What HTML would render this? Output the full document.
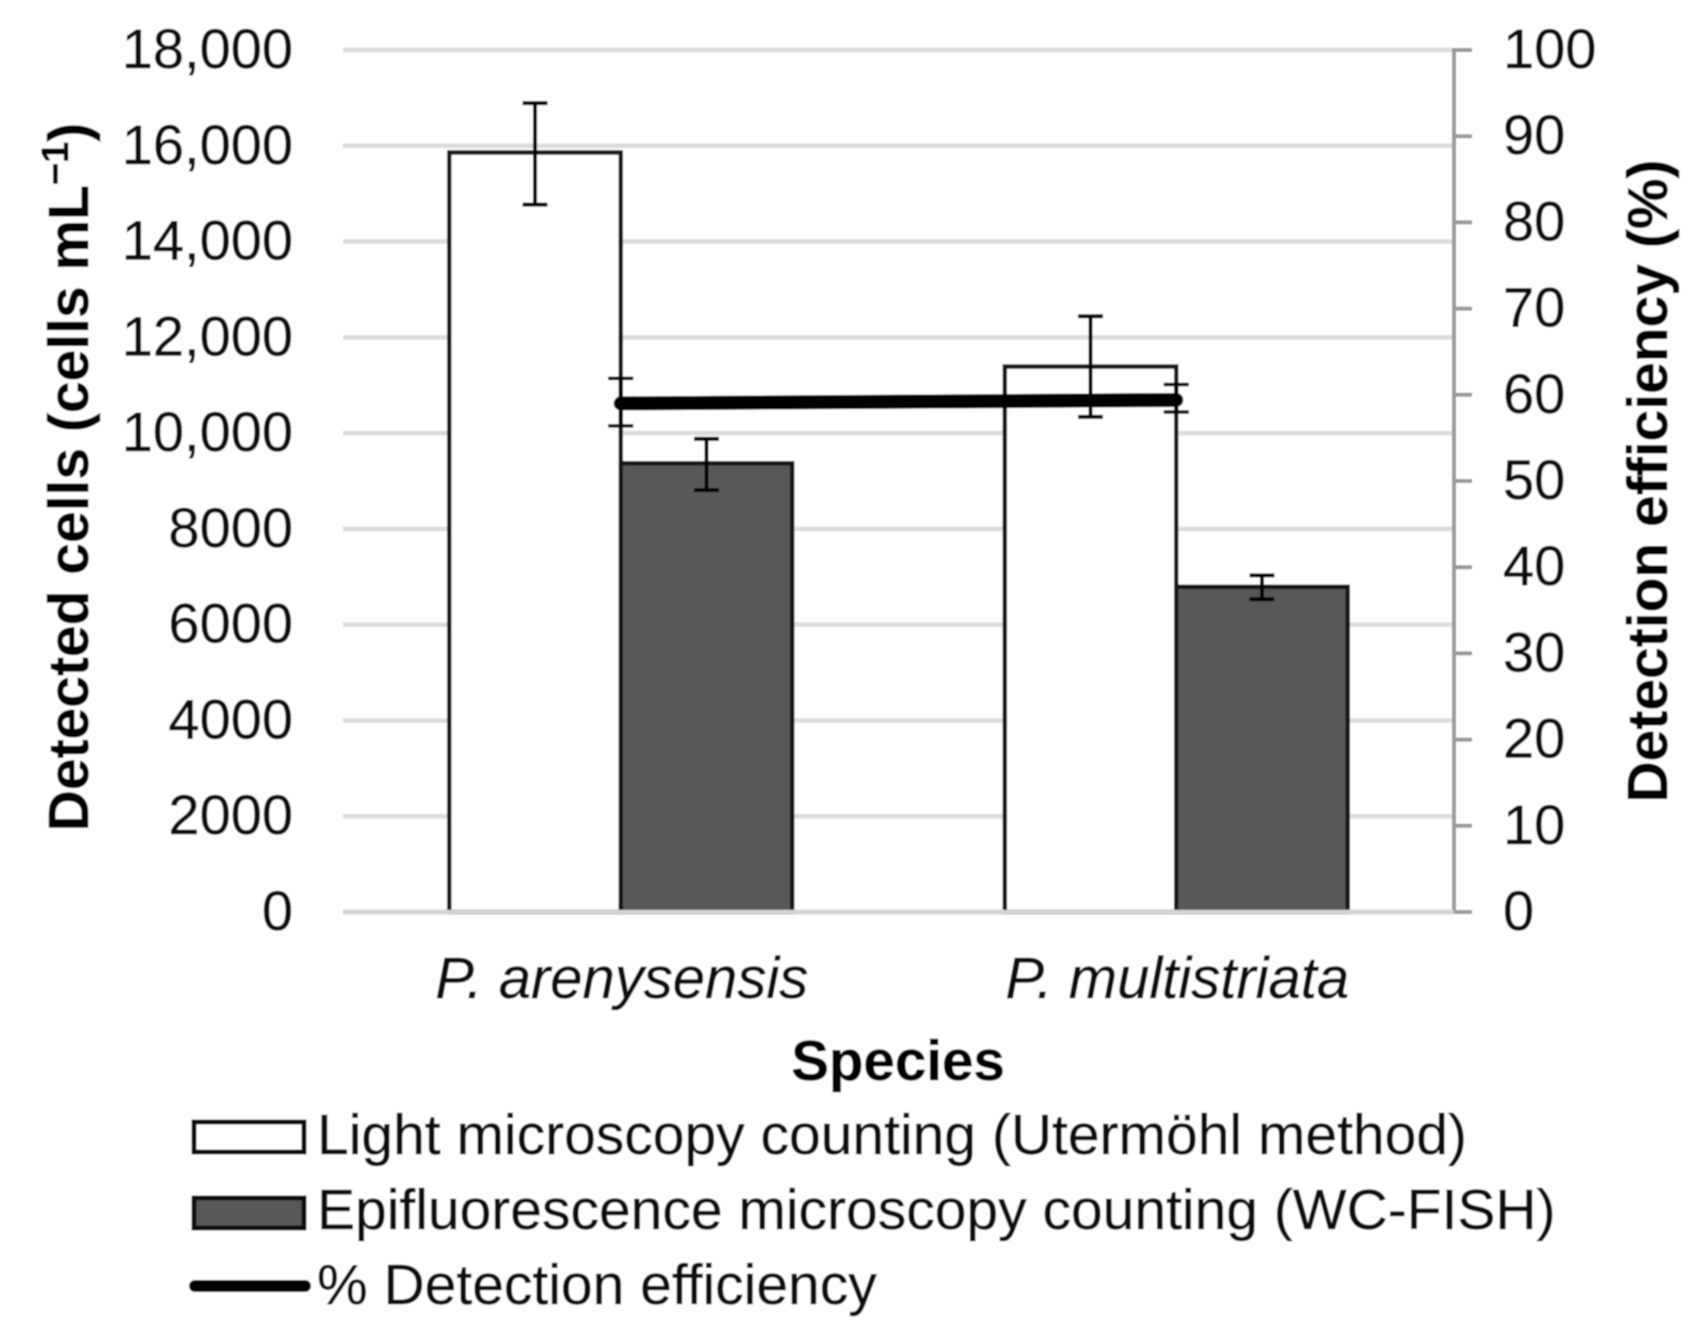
<!DOCTYPE html>
<html lang="en">
<head>
<meta charset="utf-8">
<title>Detected cells and detection efficiency by species</title>
<style>
html,body{margin:0;padding:0;background:#fff;}
svg{display:block;}
text{font-family:"Liberation Sans",Arial,sans-serif;fill:#111;stroke:#111;stroke-width:.5px;}
.tick{font-size:56px;}
.title{font-size:57px;font-weight:700;fill:#000;stroke:#000;}
.xtitle{font-size:56.5px;font-weight:700;fill:#000;stroke:#000;}
.cat{font-size:58px;font-style:italic;}
.leg{font-size:57px;}
</style>
</head>
<body>
<svg id="chart" xmlns="http://www.w3.org/2000/svg" width="1706" height="1336" viewBox="0 0 1706 1336">
  <defs>
    <filter id="soft" x="0" y="0" width="100%" height="100%" filterUnits="objectBoundingBox">
      <feGaussianBlur stdDeviation="0.9"/>
    </filter>
  </defs>
  <rect x="0" y="0" width="1706" height="1336" fill="#fff"/>
  <g id="root" filter="url(#soft)">
    <rect x="0" y="0" width="1706" height="1336" fill="#fff"/>
    <g id="grid"></g>
    <g id="right-axis"></g>
    <g id="left-ticks"></g>
    <g id="bars"></g>
    <g id="baseline"></g>
    <g id="bar-errors"></g>
    <g id="line-layer"></g>
    <g id="cats"></g>

    <text class="title" transform="translate(88,477) rotate(-90)" text-anchor="middle">Detected cells (cells mL<tspan font-size="38" dy="-20">−1</tspan><tspan dy="20">)</tspan></text>
    <text class="title" transform="translate(1667,481) rotate(-90)" text-anchor="middle">Detection efficiency (%)</text>
    <text class="xtitle" x="902" y="1080" text-anchor="middle" transform="translate(-4,0)">Species</text>

    <g>
      <rect x="194" y="1122" width="110" height="30" fill="#fff" stroke="#111" stroke-width="5"/>
      <text class="leg" x="317" y="1154">Light microscopy counting (Utermöhl method)</text>
      <rect x="194" y="1198" width="110" height="30" fill="#595959" stroke="#111" stroke-width="5"/>
      <text class="leg" x="317" y="1229">Epifluorescence microscopy counting (WC-FISH)</text>
      <line x1="195" y1="1293" x2="305" y2="1293" stroke="#000" stroke-width="12" stroke-linecap="round" transform="translate(0,-7)"/>
      <text class="leg" x="317" y="1304">% Detection efficiency</text>
    </g>
  </g>
</svg>
<script>
const categories = ["P. arenysensis", "P. multistriata"];
const lightCounts = [15860, 11390];
const lightErrHigh = [16890, 12440];
const lightErrLow = [14770, 10340];
const fishCounts = [9370, 6790];
const fishErrHigh = [9880, 7030];
const fishErrLow = [8810, 6530];
const efficiency = [59.0, 59.4];
const efficiencyErrHigh = [61.9, 61.2];
const efficiencyErrLow = [56.4, 58.0];
const leftTicks = [0, 2000, 4000, 6000, 8000, 10000, 12000, 14000, 16000, 18000];
const leftTickLabels = ["0", "2000", "4000", "6000", "8000", "10,000", "12,000", "14,000", "16,000", "18,000"];
const rightTicks = [0, 10, 20, 30, 40, 50, 60, 70, 80, 90, 100];

const NS = "http://www.w3.org/2000/svg";
const plot = { left: 343, right: 1454, top: 50, bottom: 912 };
const leftMax = 18000;
const rightMax = 100;
const gapRatio = 1.24;

function yLeft(v) { return plot.bottom - (v / leftMax) * (plot.bottom - plot.top); }
function yRight(v) { return plot.bottom - (v / rightMax) * (plot.bottom - plot.top); }
function band() { return (plot.right - plot.left) / categories.length; }
function xCenter(i) { return plot.left + band() * (i + 0.5); }
function barWidth() { return band() / (2 + gapRatio); }

function makeLine(parent, x1, y1, x2, y2, color, width) {
  const el = document.createElementNS(NS, "line");
  el.setAttribute("x1", x1);
  el.setAttribute("y1", y1);
  el.setAttribute("x2", x2);
  el.setAttribute("y2", y2);
  el.setAttribute("stroke", color);
  el.setAttribute("stroke-width", width);
  parent.appendChild(el);
  return el;
}
function makeText(parent, x, y, anchor, cls, str) {
  const el = document.createElementNS(NS, "text");
  el.setAttribute("x", x);
  el.setAttribute("y", y);
  el.setAttribute("text-anchor", anchor);
  el.setAttribute("class", cls);
  el.textContent = str;
  parent.appendChild(el);
  return el;
}
function makeBar(parent, x, value, fill) {
  const el = document.createElementNS(NS, "rect");
  const top = yLeft(value);
  el.setAttribute("x", x);
  el.setAttribute("y", top);
  el.setAttribute("width", barWidth());
  el.setAttribute("height", yLeft(0) - top);
  el.setAttribute("fill", fill);
  el.setAttribute("stroke", "#161616");
  el.setAttribute("stroke-width", 4.5);
  parent.appendChild(el);
  return el;
}
function makeErrorBar(parent, x, yHigh, yLow, capHalf, width) {
  const g = document.createElementNS(NS, "g");
  makeLine(g, x, yHigh, x, yLow, "#000", width);
  makeLine(g, x - capHalf, yHigh, x + capHalf, yHigh, "#000", width);
  makeLine(g, x - capHalf, yLow, x + capHalf, yLow, "#000", width);
  parent.appendChild(g);
  return g;
}

const gridLayer = document.getElementById("grid");
const leftLayer = document.getElementById("left-ticks");
leftTicks.forEach(function (t, i) {
  const gl = makeLine(gridLayer, plot.left, yLeft(t), plot.right, yLeft(t), "#dcdcdc", 4.5);
  
  
  const lb = makeText(leftLayer, 293, yLeft(t) + 18, "end", "tick", leftTickLabels[i]);
  
  
});

const rightLayer = document.getElementById("right-axis");
const rightSpine = makeLine(rightLayer, plot.right, yRight(rightMax) - 2, plot.right, yRight(0) + 2, "#999", 4);


rightTicks.forEach(function (t) {
  const tk = makeLine(rightLayer, plot.right, yRight(t), plot.right + 18, yRight(t), "#999", 4);
  
  
  const lb = makeText(rightLayer, 1503, yRight(t) + 18, "start", "tick", String(t));
  
  
});

const barLayer = document.getElementById("bars");
const errLayer = document.getElementById("bar-errors");
const catLayer = document.getElementById("cats");
categories.forEach(function (c, i) {
  const cx = xCenter(i);
  const w = barWidth();
  const a = makeBar(barLayer, cx - w, lightCounts[i], "#fff");
  
  
  const b = makeBar(barLayer, cx, fishCounts[i], "#595959");
  
  
  const ea = makeErrorBar(errLayer, cx - w / 2, yLeft(lightErrHigh[i]), yLeft(lightErrLow[i]), 12.5, 4);
  
  
  const eb = makeErrorBar(errLayer, cx + w / 2, yLeft(fishErrHigh[i]), yLeft(fishErrLow[i]), 12.5, 4);
  
  
  const lb = makeText(catLayer, cx + 1, 998, "middle", "cat", c);
  
  
});

const baseLine = makeLine(document.getElementById("baseline"), plot.left, yLeft(0), plot.right, yLeft(0), "#d4d4d4", 4.5);



const lineLayer = document.getElementById("line-layer");
efficiency.forEach(function (v, i) {
  const e = makeErrorBar(lineLayer, xCenter(i), yRight(efficiencyErrHigh[i]), yRight(efficiencyErrLow[i]), 12.5, 3.5);
  
  
});
const effLine = document.createElementNS(NS, "polyline");
effLine.setAttribute("points", efficiency.map(function (v, i) { return xCenter(i) + "," + yRight(v); }).join(" "));
effLine.setAttribute("fill", "none");
effLine.setAttribute("stroke", "#000");
effLine.setAttribute("stroke-width", 14);
effLine.setAttribute("stroke-linecap", "round");


lineLayer.appendChild(effLine);
</script>
</body>
</html>
